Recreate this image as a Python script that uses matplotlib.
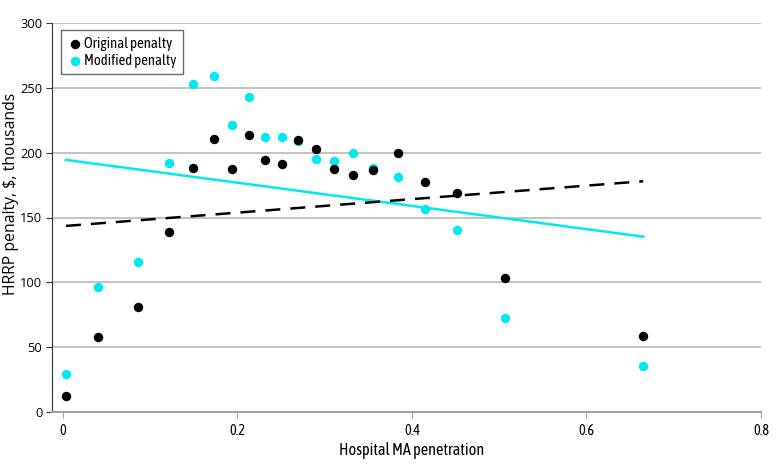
import matplotlib
matplotlib.use("Agg")
import matplotlib.pyplot as plt
from matplotlib import font_manager

# ---- data ----
ma_penetration = [0.0034, 0.040, 0.086, 0.121, 0.1486, 0.173, 0.1933, 0.213, 0.232, 0.251,
                  0.2697, 0.290, 0.3106, 0.332, 0.3557, 0.3836, 0.4145, 0.4516, 0.507, 0.665]
original_penalty = [11.9, 57.5, 80.7, 138.6, 188.5, 210.7, 187.3, 213.5, 194.7, 191.1,
                    209.9, 202.7, 187.5, 182.9, 187.0, 199.9, 177.5, 169.0, 103.1, 58.2]
modified_penalty = [28.9, 96.6, 115.4, 192.1, 253.4, 259.6, 221.5, 243.4, 212.0, 212.5,
                    208.9, 195.0, 193.9, 199.9, 188.0, 181.6, 156.8, 140.1, 72.4, 35.5]
trend_x = [0.0034, 0.665]
original_trend = [143.5, 178.0]
modified_trend = [194.5, 135.2]
x_ticks = [0, 0.2, 0.4, 0.6, 0.8]
x_tick_labels = ["0", "0.2", "0.4", "0.6", "0.8"]
y_ticks = [0, 50, 100, 150, 200, 250, 300]

available = {f.name for f in font_manager.fontManager.ttflist}
fam = [f for f in ["Asap Condensed", "Barlow Semi Condensed", "DejaVu Sans"] if f in available]
plt.rcParams['font.family'] = fam + ["DejaVu Sans"]
wide = [f for f in ["Open Sans", "Noto Sans", "DejaVu Sans"] if f in available] + ["DejaVu Sans"]

CYAN = "#00E8F0"
W, H = 780, 472
fig = plt.figure(figsize=(W / 100, H / 100), dpi=100)
ax = fig.add_axes([52 / W, (H - 411.7) / H, (761 - 52) / W, (411.7 - 23.3) / H])

ax.set_xlim(-0.0126, 0.8)
ax.set_ylim(0, 300)
ax.set_yticks(y_ticks)
ax.set_xticks(x_ticks)
ax.set_xticklabels(x_tick_labels)
ax.yaxis.grid(True, color="#b8b8b8", linewidth=1.2)
ax.set_axisbelow(True)

for s in ["top", "right"]:
    ax.spines[s].set_visible(False)
ax.spines["left"].set_color("#333333")
ax.spines["bottom"].set_color("#a0a0a0")
ax.spines["bottom"].set_linewidth(1.5)
ax.tick_params(axis="y", colors="#333333", labelcolor="black", length=4, labelsize=9.3, pad=3)
ax.tick_params(axis="x", colors="#a0a0a0", labelcolor="black", length=4, labelsize=10.3, pad=5)
for t in ax.get_yticklabels():
    t.set_fontfamily(wide)

ax.plot(trend_x, modified_trend, color=CYAN, linewidth=1.8, zorder=2)
ax.plot(trend_x, original_trend, color="black", linewidth=1.8, dashes=(6, 4), zorder=2)
ax.scatter(ma_penetration, modified_penalty, s=46, color=CYAN, zorder=3,
           label="Modified penalty", linewidths=0)
ax.scatter(ma_penetration, original_penalty, s=46, color="black", zorder=4,
           label="Original penalty", linewidths=0)

handles, labels = ax.get_legend_handles_labels()
leg = ax.legend(handles[::-1], labels[::-1], loc="upper left", bbox_to_anchor=(0.013, 0.982),
                fontsize=10.6, frameon=True, fancybox=False, edgecolor="#444444",
                handletextpad=0.1, borderpad=0.45, labelspacing=0.2, handlelength=1.0,
                borderaxespad=0)
leg.get_frame().set_linewidth(1.0)

ax.set_xlabel("Hospital MA penetration", fontsize=11.7)
ax.set_ylabel("HRRP penalty, $, thousands", fontsize=11.3, fontfamily=wide)
ax.xaxis.set_label_coords((411.5 - 52) / 709, (411.7 - 442) / 388.4)
ax.yaxis.set_label_coords((19 - 52) / 709, (411.7 - 193.5) / 388.4)

fig.savefig("out.png", dpi=100)
